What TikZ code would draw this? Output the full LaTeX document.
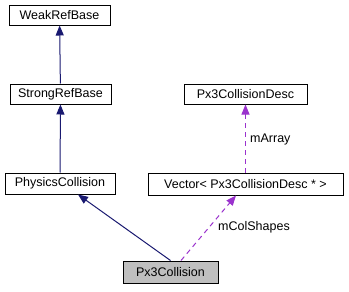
\documentclass[tikz,border=0pt]{standalone}
\usepackage{fontspec}
\setmainfont{Liberation Sans}
\usepackage{tikz}
\usetikzlibrary{arrows.meta}

\begin{document}
\begin{tikzpicture}[x=1pt, y=-1pt,
    cls/.style={draw=black, line width=1pt, fill=white, inner sep=0pt,
      font=\fontsize{12.5}{14}\selectfont},
    inherit/.style={draw=midnightblue, line width=1pt,
      -{Triangle[length=10pt, width=8pt]}},
    usage/.style={draw=orchid, line width=1pt, dash pattern=on 5pt off 4pt,
      -{Triangle[length=10pt, width=8pt]}},
    lbl/.style={anchor=west, inner sep=0pt, font=\fontsize{12.5}{14}\selectfont}]
          \definecolor{midnightblue}{HTML}{191970}
          \definecolor{orchid}{HTML}{9A32CD}
          \useasboundingbox (0, 0) rectangle (349, 292);

          % Classes
          \node [cls, minimum width=101pt, minimum height=20pt] (weak) at (59.5, 15) {WeakRefBase};
          \node [cls, minimum width=101pt, minimum height=20pt] (strong) at (60.5, 94) {StrongRefBase};
          \node [cls, minimum width=110pt, minimum height=21pt] (phys) at (60, 183.5) {PhysicsCollision};
          \node [cls, minimum width=123pt, minimum height=20pt] (desc) at (245.5, 94) {Px3CollisionDesc};
          \node [cls, minimum width=195pt, minimum height=22pt] (vec) at (245.5, 184) {Vector< Px3CollisionDesc * >};
          \node [cls, fill=black!25, minimum width=95pt, minimum height=22pt] (px3) at (170.5, 272) {Px3Collision};

          % Inheritance
          \draw [inherit] (strong) -- (weak);
          \draw [inherit] (phys) -- (strong);
          \draw [inherit] (px3.north) -- ([xshift=18pt]phys.south);

          % Members
          \draw [usage] (vec) -- (desc);
          \draw [usage] ([xshift=10.5pt]px3.north) -- ([xshift=-9.5pt]vec.south);
          \node [lbl] (arr) at (250, 139) {mArray};
          \node [lbl] (shapes) at (218, 227) {mColShapes};
        \end{tikzpicture}
\end{document}
